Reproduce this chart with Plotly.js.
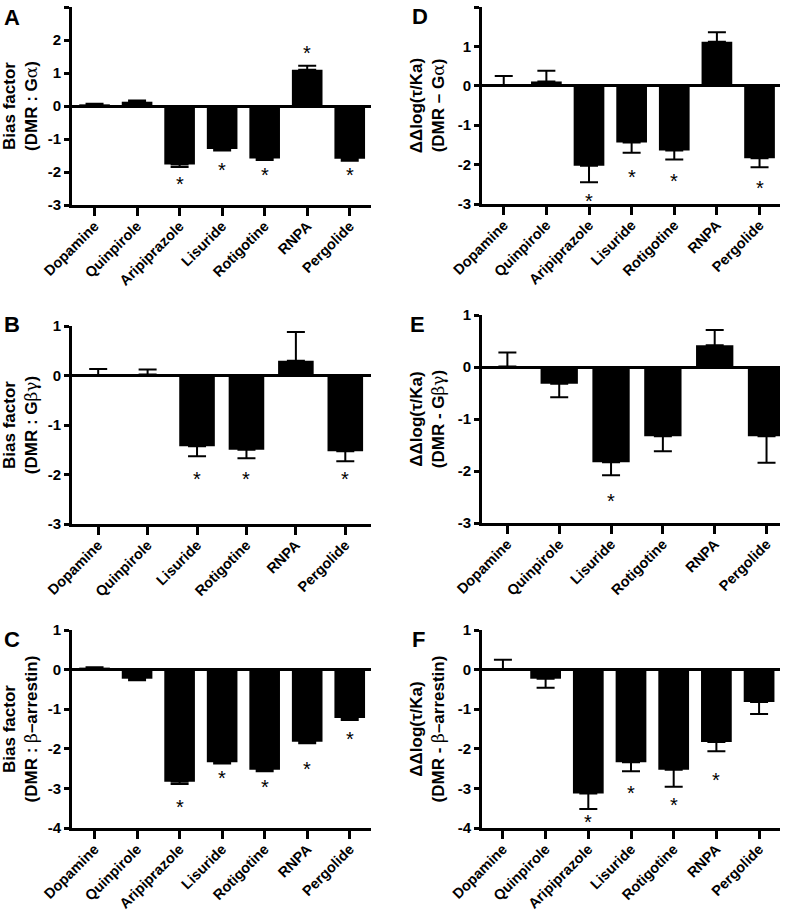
<!DOCTYPE html>
<html>
<head>
<meta charset="utf-8">
<script src="https://cdn.plot.ly/plotly-3.0.1.min.js"></script>
<style>body{margin:0;padding:0;background:#fff}#chart{width:797px;height:911px}</style>
</head>
<body>
<div id="chart"></div>
<script>
// ---------- data ----------
var cats7 = ["Dopamine","Quinpirole","Aripiprazole","Lisuride","Rotigotine","RNPA","Pergolide"];
var cats6 = ["Dopamine","Quinpirole","Lisuride","Rotigotine","RNPA","Pergolide"];

// A: Bias factor (DMR : Gα)
var valA  = [0.05, 0.13, -1.77, -1.30, -1.59, 1.10, -1.60];
var errA  = [0.02, 0.04, 0.08, 0.05, 0.05, 0.12, 0.06];
var starA = [null, null, -2.22, -1.79, -1.94, 1.75, -1.94];

// B: Bias factor (DMR : Gβγ)
var valB  = [0.01, 0.02, -1.43, -1.50, 0.30, -1.53];
var errB  = [0.12, 0.10, 0.20, 0.17, 0.58, 0.20];
var starB = [null, null, -2.0, -2.0, null, -2.0];

// C: Bias factor (DMR : β-arrestin)
var valC  = [0.05, -0.23, -2.83, -2.34, -2.53, -1.82, -1.22];
var errC  = [0.01, 0.04, 0.06, 0.03, 0.04, 0.04, 0.05];
var starC = [null, null, -3.35, -2.62, -2.84, -2.38, -1.63];

// D: ΔΔlog(τ/Ka) (DMR – Gα)
var valD  = [0.01, 0.11, -2.03, -1.44, -1.64, 1.12, -1.84];
var errD  = [0.24, 0.27, 0.42, 0.26, 0.23, 0.24, 0.23];
var starD = [null, null, -2.80, -2.18, -2.28, null, -2.47];

// E: ΔΔlog(τ/Ka) (DMR - Gβγ)
var valE  = [0.01, -0.32, -1.83, -1.33, 0.42, -1.33];
var errE  = [0.27, 0.26, 0.25, 0.29, 0.29, 0.51];
var starE = [null, null, -2.49, null, null, null];

// F: ΔΔlog(τ/Ka) (DMR - β-arrestin)
var valF  = [0.01, -0.23, -3.13, -2.34, -2.53, -1.83, -0.82];
var errF  = [0.24, 0.23, 0.39, 0.23, 0.43, 0.23, 0.30];
var starF = [null, null, -3.73, -2.99, -3.29, -2.66, null];

// ---------- layout helpers ----------
var W = 797, H = 911;
var FONT = "Liberation Sans, Arial, sans-serif";
var greek = function(s){ return "<span style='font-family:DejaVu Serif;font-weight:normal'>" + s + "</span>"; };

var panels = [
  {id:"A", cats:cats7, v:valA, e:errA, s:starA, yr:[-3,3], xr:[-0.53,6.5],  px:[72,371],  py:[7,205],
   title:"<b>Bias factor</b><br><b>(DMR : G</b>"+greek("α")+"<b>)</b>", lab:[2,3]},
  {id:"B", cats:cats6, v:valB, e:errB, s:starB, yr:[-3,1], xr:[-0.53,5.52], px:[72,371],  py:[326,524],
   title:"<b>Bias factor</b><br><b>(DMR : G</b>"+greek("βγ")+"<b>)</b>", lab:[2,310]},
  {id:"C", cats:cats7, v:valC, e:errC, s:starC, yr:[-4,1], xr:[-0.53,6.5],  px:[72,371],  py:[630,828],
   title:"<b>Bias factor</b><br><b>(DMR : </b>"+greek("β")+"<b>–arrestin)</b>", lab:[2,625]},
  {id:"D", cats:cats7, v:valD, e:errD, s:starD, yr:[-3,2], xr:[-0.51,6.48], px:[482,780], py:[7,204],
   title:"<b>ΔΔlog(τ/Ka)</b><br><b>(DMR – G</b>"+greek("α")+"<b>)</b>", lab:[410,2]},
  {id:"E", cats:cats6, v:valE, e:errE, s:starE, yr:[-3,1], xr:[-0.49,5.26], px:[482,780], py:[315,523],
   title:"<b>ΔΔlog(τ/Ka)</b><br><b>(DMR - G</b>"+greek("βγ")+"<b>)</b>", lab:[408,310]},
  {id:"F", cats:cats7, v:valF, e:errF, s:starF, yr:[-4,1], xr:[-0.49,6.49], px:[482,780], py:[630,828],
   title:"<b>ΔΔlog(τ/Ka)</b><br><b>(DMR - </b>"+greek("β")+"<b>–arrestin)</b>", lab:[410,625]}
];

var data = [];
var layout = {
  width: W, height: H,
  margin: {l:0, r:0, t:0, b:0},
  paper_bgcolor: "#fff", plot_bgcolor: "#fff",
  showlegend: false,
  font: {family: FONT, color: "#000"},
  annotations: []
};

panels.forEach(function(p, i){
  var n = i + 1;
  var xa = "x" + n, ya = "y" + n;
  var xk = "xaxis" + (n === 1 ? "" : n), yk = "yaxis" + (n === 1 ? "" : n);
  var up = p.v.map(function(v, j){ return v >= 0 ? p.e[j] : 0; });
  var dn = p.v.map(function(v, j){ return v < 0 ? p.e[j] : 0; });
  data.push({
    type: "bar", x: p.cats, y: p.v, xaxis: xa, yaxis: ya,
    marker: {color: "#000", line: {width: 0}},
    width: 0.72,
    error_y: {type: "data", symmetric: false, array: up, arrayminus: dn,
              color: "#000", thickness: 2, width: 9},
    hoverinfo: "none"
  });
  // significance stars
  p.s.forEach(function(s, j){
    if (s === null) return;
    layout.annotations.push({
      text: "*", xref: xa, yref: ya, x: p.cats[j], y: s,
      xanchor: "center", yanchor: "middle", yshift: -5,
      showarrow: false, font: {family: FONT, size: 20, color: "#000"}
    });
  });
  var tv = [];
  for (var t = p.yr[0]; t <= p.yr[1]; t++) tv.push(t);
  layout[xk] = {
    domain: [p.px[0] / W, p.px[1] / W],
    anchor: ya,
    type: "category",
    range: p.xr,
    showline: true, linewidth: 3, linecolor: "#000",
    ticks: "outside", ticklen: 8, tickwidth: 3, tickcolor: "#000",
    tickangle: -45, ticklabelstandoff: -4,
    tickfont: {family: FONT, size: 14.5, weight: "bold", color: "#000"},
    showgrid: false, zeroline: false, fixedrange: true
  };
  layout[yk] = {
    domain: [1 - p.py[1] / H, 1 - p.py[0] / H],
    anchor: xa,
    range: p.yr,
    tickvals: tv,
    ticktext: tv.map(function(t){ return String(t); }),
    showline: true, linewidth: 3, linecolor: "#000",
    ticks: "outside", ticklen: 5, tickwidth: 3, tickcolor: "#000",
    tickfont: {family: FONT, size: 15, weight: "bold", color: "#000"},
    showgrid: false,
    zeroline: true, zerolinewidth: 3, zerolinecolor: "#000",
    title: {text: p.title, standoff: 9, font: {family: FONT, size: 17, color: "#000"}},
    fixedrange: true
  };
  layout.annotations.push({
    text: "<b>" + p.id + "</b>", xref: "paper", yref: "paper",
    x: p.lab[0] / W, y: 1 - p.lab[1] / H, xanchor: "left", yanchor: "top",
    showarrow: false, font: {family: FONT, size: 22, color: "#000"}
  });
});

Plotly.newPlot("chart", data, layout, {staticPlot: true});
</script>
</body>
</html>
